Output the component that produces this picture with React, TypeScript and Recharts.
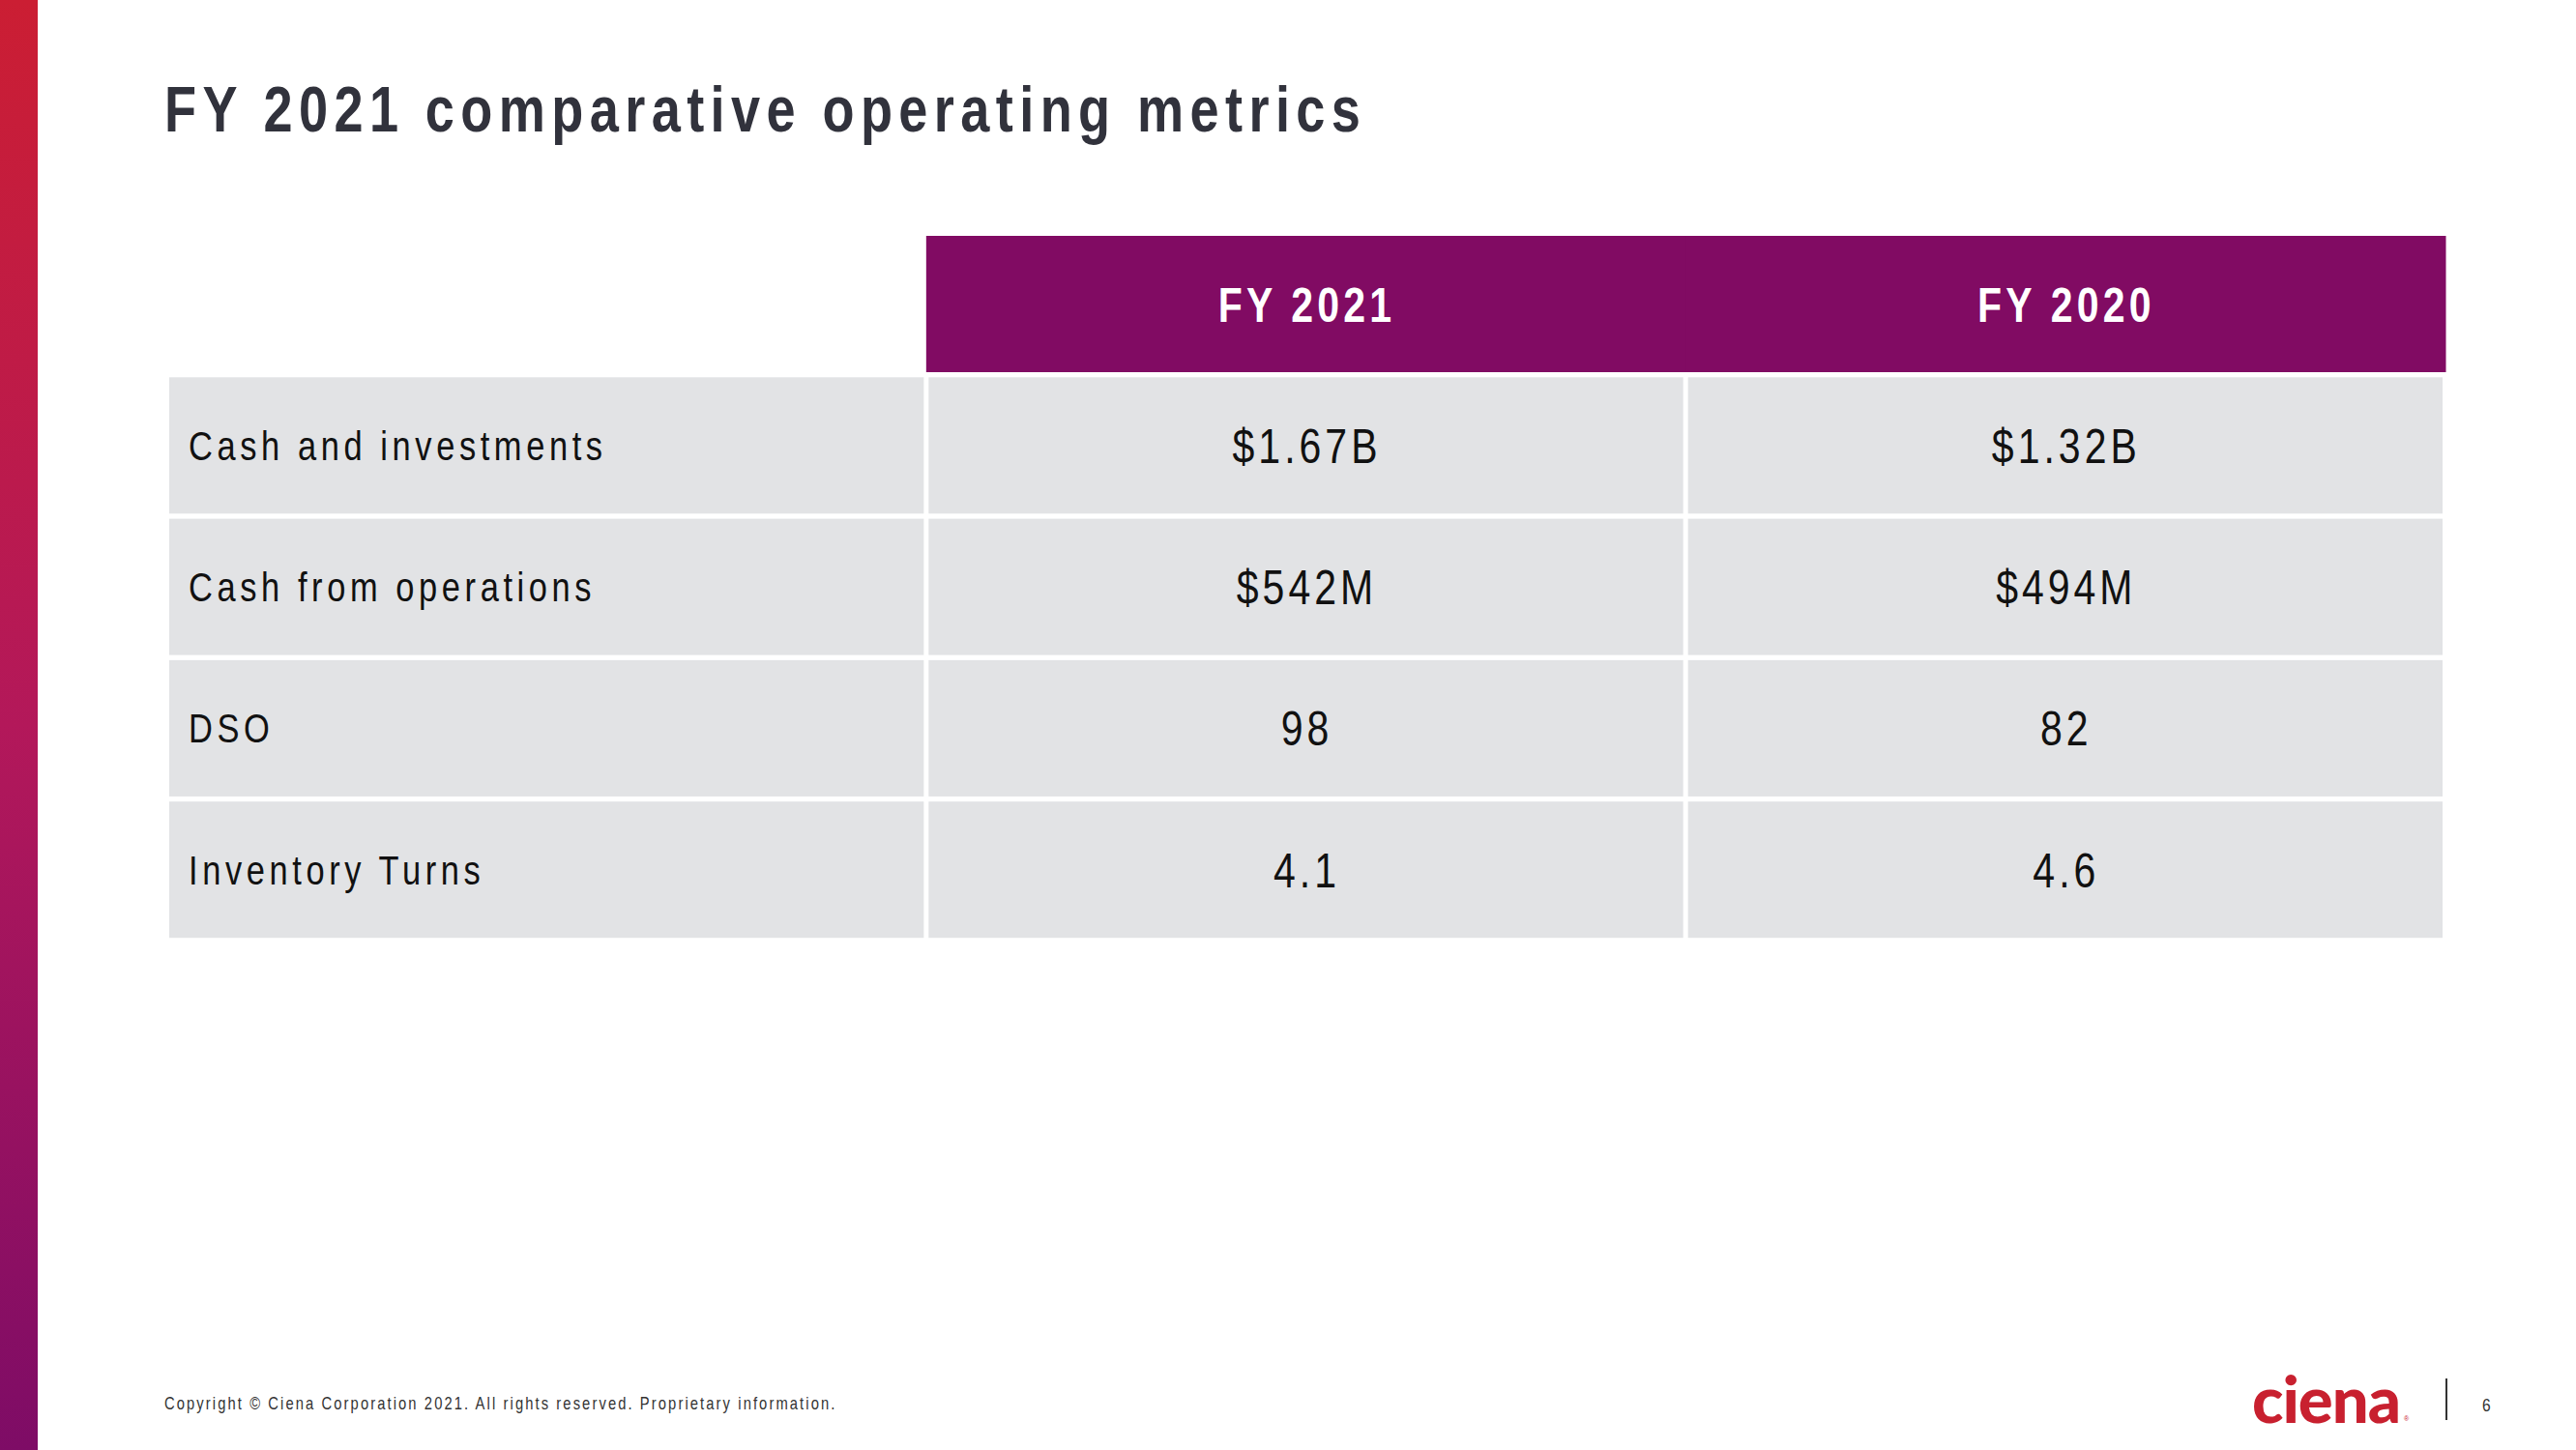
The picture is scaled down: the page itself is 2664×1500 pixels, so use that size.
import { Bar, BarChart, XAxis, YAxis } from "recharts";

const columnLabels = ["FY 2021", "FY 2020"];
const metricNames = ["Cash and investments", "Cash from operations", "DSO", "Inventory Turns"];
const fy2021Values = ["$1.67B", "$542M", "98", "4.1"];
const fy2020Values = ["$1.32B", "$494M", "82", "4.6"];

const W = 2664;
const H = 1500;
const PURPLE = "#810B63";
const GRAY = "#E2E3E5";
const SANS = "'Liberation Sans', Arial, sans-serif";
const GAP = 2.5;
const SQUEEZE = 0.82; // narrow face look

// one table row per category, each column is a stacked segment of equal span
const rows = [
  { key: "header", metric: "", fy2021: columnLabels[0], fy2020: columnLabels[1], header: true },
  ...metricNames.map((m, i) => ({
    key: m,
    metric: m,
    fy2021: fy2021Values[i],
    fy2020: fy2020Values[i],
    header: false,
  })),
].map((r) => ({ ...r, metricSpan: 1, fy2021Span: 1, fy2020Span: 1 }));

type Field = "metric" | "fy2021" | "fy2020";

function NarrowText(props: {
  x: number;
  y: number;
  size: number;
  spacing: number;
  fill: string;
  weight?: number;
  anchor?: "start" | "middle" | "end";
  children: string;
}) {
  const { x, y, size, spacing, fill, weight = 400, anchor = "start", children } = props;
  return (
    <text
      transform={`translate(${x},${y}) scale(${SQUEEZE},1)`}
      x={0}
      y={0}
      textAnchor={anchor}
      fontFamily={SANS}
      fontSize={size}
      fontWeight={weight}
      letterSpacing={spacing / SQUEEZE}
      fill={fill}
    >
      {children}
    </text>
  );
}

function makeCell(field: Field) {
  return (props: any) => {
    const { x, y, width, height, payload } = props;
    const isHeader = payload.header;
    if (isHeader && field === "metric") return <g />;
    const text = payload[field];
    const ry = y + GAP;
    const rh = height - GAP * 2;
    const rx = isHeader ? x : x + GAP;
    const rw = isHeader ? width + 1 : width - GAP * 2;
    const cy = ry + rh / 2;
    return (
      <g>
        <rect x={rx} y={ry} width={rw} height={rh} fill={isHeader ? PURPLE : GRAY} />
        {isHeader ? (
          <NarrowText x={x + width / 2 + 1} y={cy + 18} anchor="middle" size={50} weight={700} spacing={4.2} fill="#ffffff">
            {text}
          </NarrowText>
        ) : field === "metric" ? (
          <NarrowText x={rx + 20} y={cy + 15} size={42} spacing={4.6} fill="#111111">
            {text}
          </NarrowText>
        ) : (
          <NarrowText x={x + width / 2 + 1} y={cy + 18} anchor="middle" size={50} spacing={4} fill="#111111">
            {text}
          </NarrowText>
        )}
      </g>
    );
  };
}

export default function App() {
  return (
    <div style={{ position: "absolute", left: 0, top: 0, width: W, height: H, background: "#fff" }}>
      <svg width={W} height={H} style={{ position: "absolute", left: 0, top: 0 }}>
        <defs>
          <linearGradient id="sideBar" x1="0" y1="0" x2="0" y2="1">
            <stop offset="0%" stopColor="#CB1E33" />
            <stop offset="50%" stopColor="#B3185A" />
            <stop offset="100%" stopColor="#7E0C66" />
          </linearGradient>
        </defs>
        <rect x={0} y={0} width={39} height={H} fill="url(#sideBar)" />
        <NarrowText x={170} y={136} size={66} weight={700} spacing={6.4} fill="#31323C">
          FY 2021 comparative operating metrics
        </NarrowText>
        <NarrowText x={170} y={1458} size={18} spacing={2.1} fill="#333333">
          Copyright © Ciena Corporation 2021. All rights reserved. Proprietary information.
        </NarrowText>
        <text x={2329} y={1472} fontFamily="Lato, sans-serif" fontWeight={900} fontSize={67} letterSpacing={-1} fill="#C8202F">
          ciena
        </text>
        <text x={2486} y={1470} fontFamily={SANS} fontSize={7} fill="#C8202F">
          ®
        </text>
        <line x1={2530} y1={1426} x2={2530} y2={1469} stroke="#333333" strokeWidth={2} />
        <NarrowText x={2567} y={1460} size={19} spacing={0} fill="#333333">
          6
        </NarrowText>
      </svg>
      <div style={{ position: "absolute", left: 0, top: 0 }}>
        <BarChart
          width={W}
          height={H}
          data={rows}
          layout="vertical"
          barCategoryGap={0}
          margin={{ top: 241.5, right: 135.5, bottom: 527, left: 172.5 }}
        >
          <XAxis type="number" domain={[0, 3]} hide />
          <YAxis type="category" dataKey="key" hide width={0} />
          <Bar dataKey="metricSpan" stackId="t" isAnimationActive={false} shape={makeCell("metric")} />
          <Bar dataKey="fy2021Span" stackId="t" isAnimationActive={false} shape={makeCell("fy2021")} />
          <Bar dataKey="fy2020Span" stackId="t" isAnimationActive={false} shape={makeCell("fy2020")} />
        </BarChart>
      </div>
    </div>
  );
}
